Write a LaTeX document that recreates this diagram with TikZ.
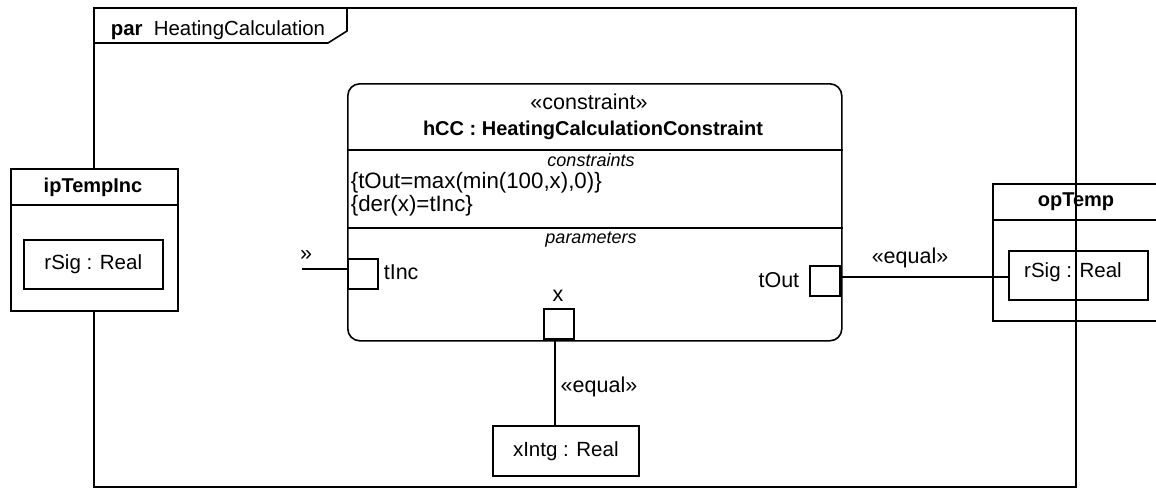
\documentclass[tikz,border=0pt]{standalone}
\usepackage{fontspec}
\setmainfont{Liberation Sans}
\begin{document}
\begin{tikzpicture}[x=1pt,y=-1pt,line width=1.6pt,
  every node/.style={font=\fontsize{20.5}{24}\selectfont, inner sep=0pt},
  box/.style={draw, fill=white, anchor=north west},
  openbox/.style={draw, anchor=north west},
  port/.style={draw, fill=white, minimum size=30pt, inner sep=0pt},
  bold/.style={font=\bfseries\fontsize{20}{24}\selectfont},
  ital/.style={font=\itshape\fontsize{18}{22}\selectfont},
  guil/.style={font=\fontsize{21.5}{25}\selectfont},
  cline/.style={font=\fontsize{22.3}{26}\selectfont}]
\useasboundingbox (0,0) rectangle (1156,488);
% frame
\node[openbox, minimum width=982pt, minimum height=479pt] (frame) at (93,7) {};
\draw (frame.north west |- 0,43) -- (328,43) -- (347,31) -- (347,7);
\node[anchor=base west, font=\fontsize{20.4}{24}\selectfont] (frlabel) at (110,35) {\textbf{par}\ \ HeatingCalculation};
% ipTempInc
\node[box, minimum width=167pt, minimum height=142pt] (ip) at (10,168) {};
\draw (ip.west |- 0,205) -- (ip.east |- 0,205);
\node[bold] (iplbl) at (93,187) {ipTempInc};
\node[box, minimum width=139pt, minimum height=49pt] (rSigL) at (23,239) {};
\node (rSigLt) at (rSigL.center) {rSig : Real};
% opTemp
\node[openbox, minimum width=180pt, minimum height=137pt] (op) at (992,183) {};
\draw (op.west |- 0,220) -- (op.east |- 0,220);
\node[bold] (oplbl) at (1076,202) {opTemp};
\node[openbox, minimum width=139pt, minimum height=49pt] (rSigR) at (1008,250) {};
\node (rSigRt) at (1073,272) {rSig : Real};
% constraint block
\node[box, rounded corners=12pt, minimum width=494pt, minimum height=257pt] (hcc) at (347,83) {};
\draw (hcc.west |- 0,150) -- (hcc.east |- 0,150);
\draw (hcc.west |- 0,228) -- (hcc.east |- 0,228);
\node[guil] (st) at (589,102) {«constraint»};
\node[bold] (nm) at (593,130) {hCC : HeatingCalculationConstraint};
\node[ital] (cs) at (591,160) {constraints};
\node[anchor=west, cline] (c1) at (350,183) {\{tOut=max(min(100,x),0)\}};
\node[anchor=west, cline] (c2) at (350,206) {\{der(x)=tInc\}};
\node[ital] (ps) at (591,240) {parameters};
% ports
\node[port, anchor=north west] (tInc) at (347,258) {};
\node[anchor=west, guil] (tInclbl) at (383,272) {tInc};
\node[port, anchor=north east] (tOut) at (841,265) {};
\node[anchor=east, guil] (tOutlbl) at (800,280) {tOut};
\node[port, anchor=south west] (xp) at (543,340) {};
\node[guil] (xlbl) at (558,296) {x};
% xIntg
\node[box, minimum width=146pt, minimum height=50pt] (xIntg) at (492,425) {};
\node (xIntgt) at (xIntg.center) {xIntg : Real};
% connectors
\coordinate (inEnd) at (302,269);
\draw (inEnd) -- (inEnd -| tInc.west);
\node[guil] (raq) at (306,256) {»};
\draw (tOut.east |- 0,277) -- (rSigR.west |- 0,277);
\node[guil] (eq1) at (910,258) {«equal»};
\draw (xp.south -| 555,0) -- (xIntg.north -| 555,0);
\node[guil] (eq2) at (599,387) {«equal»};
\end{tikzpicture}
\end{document}
